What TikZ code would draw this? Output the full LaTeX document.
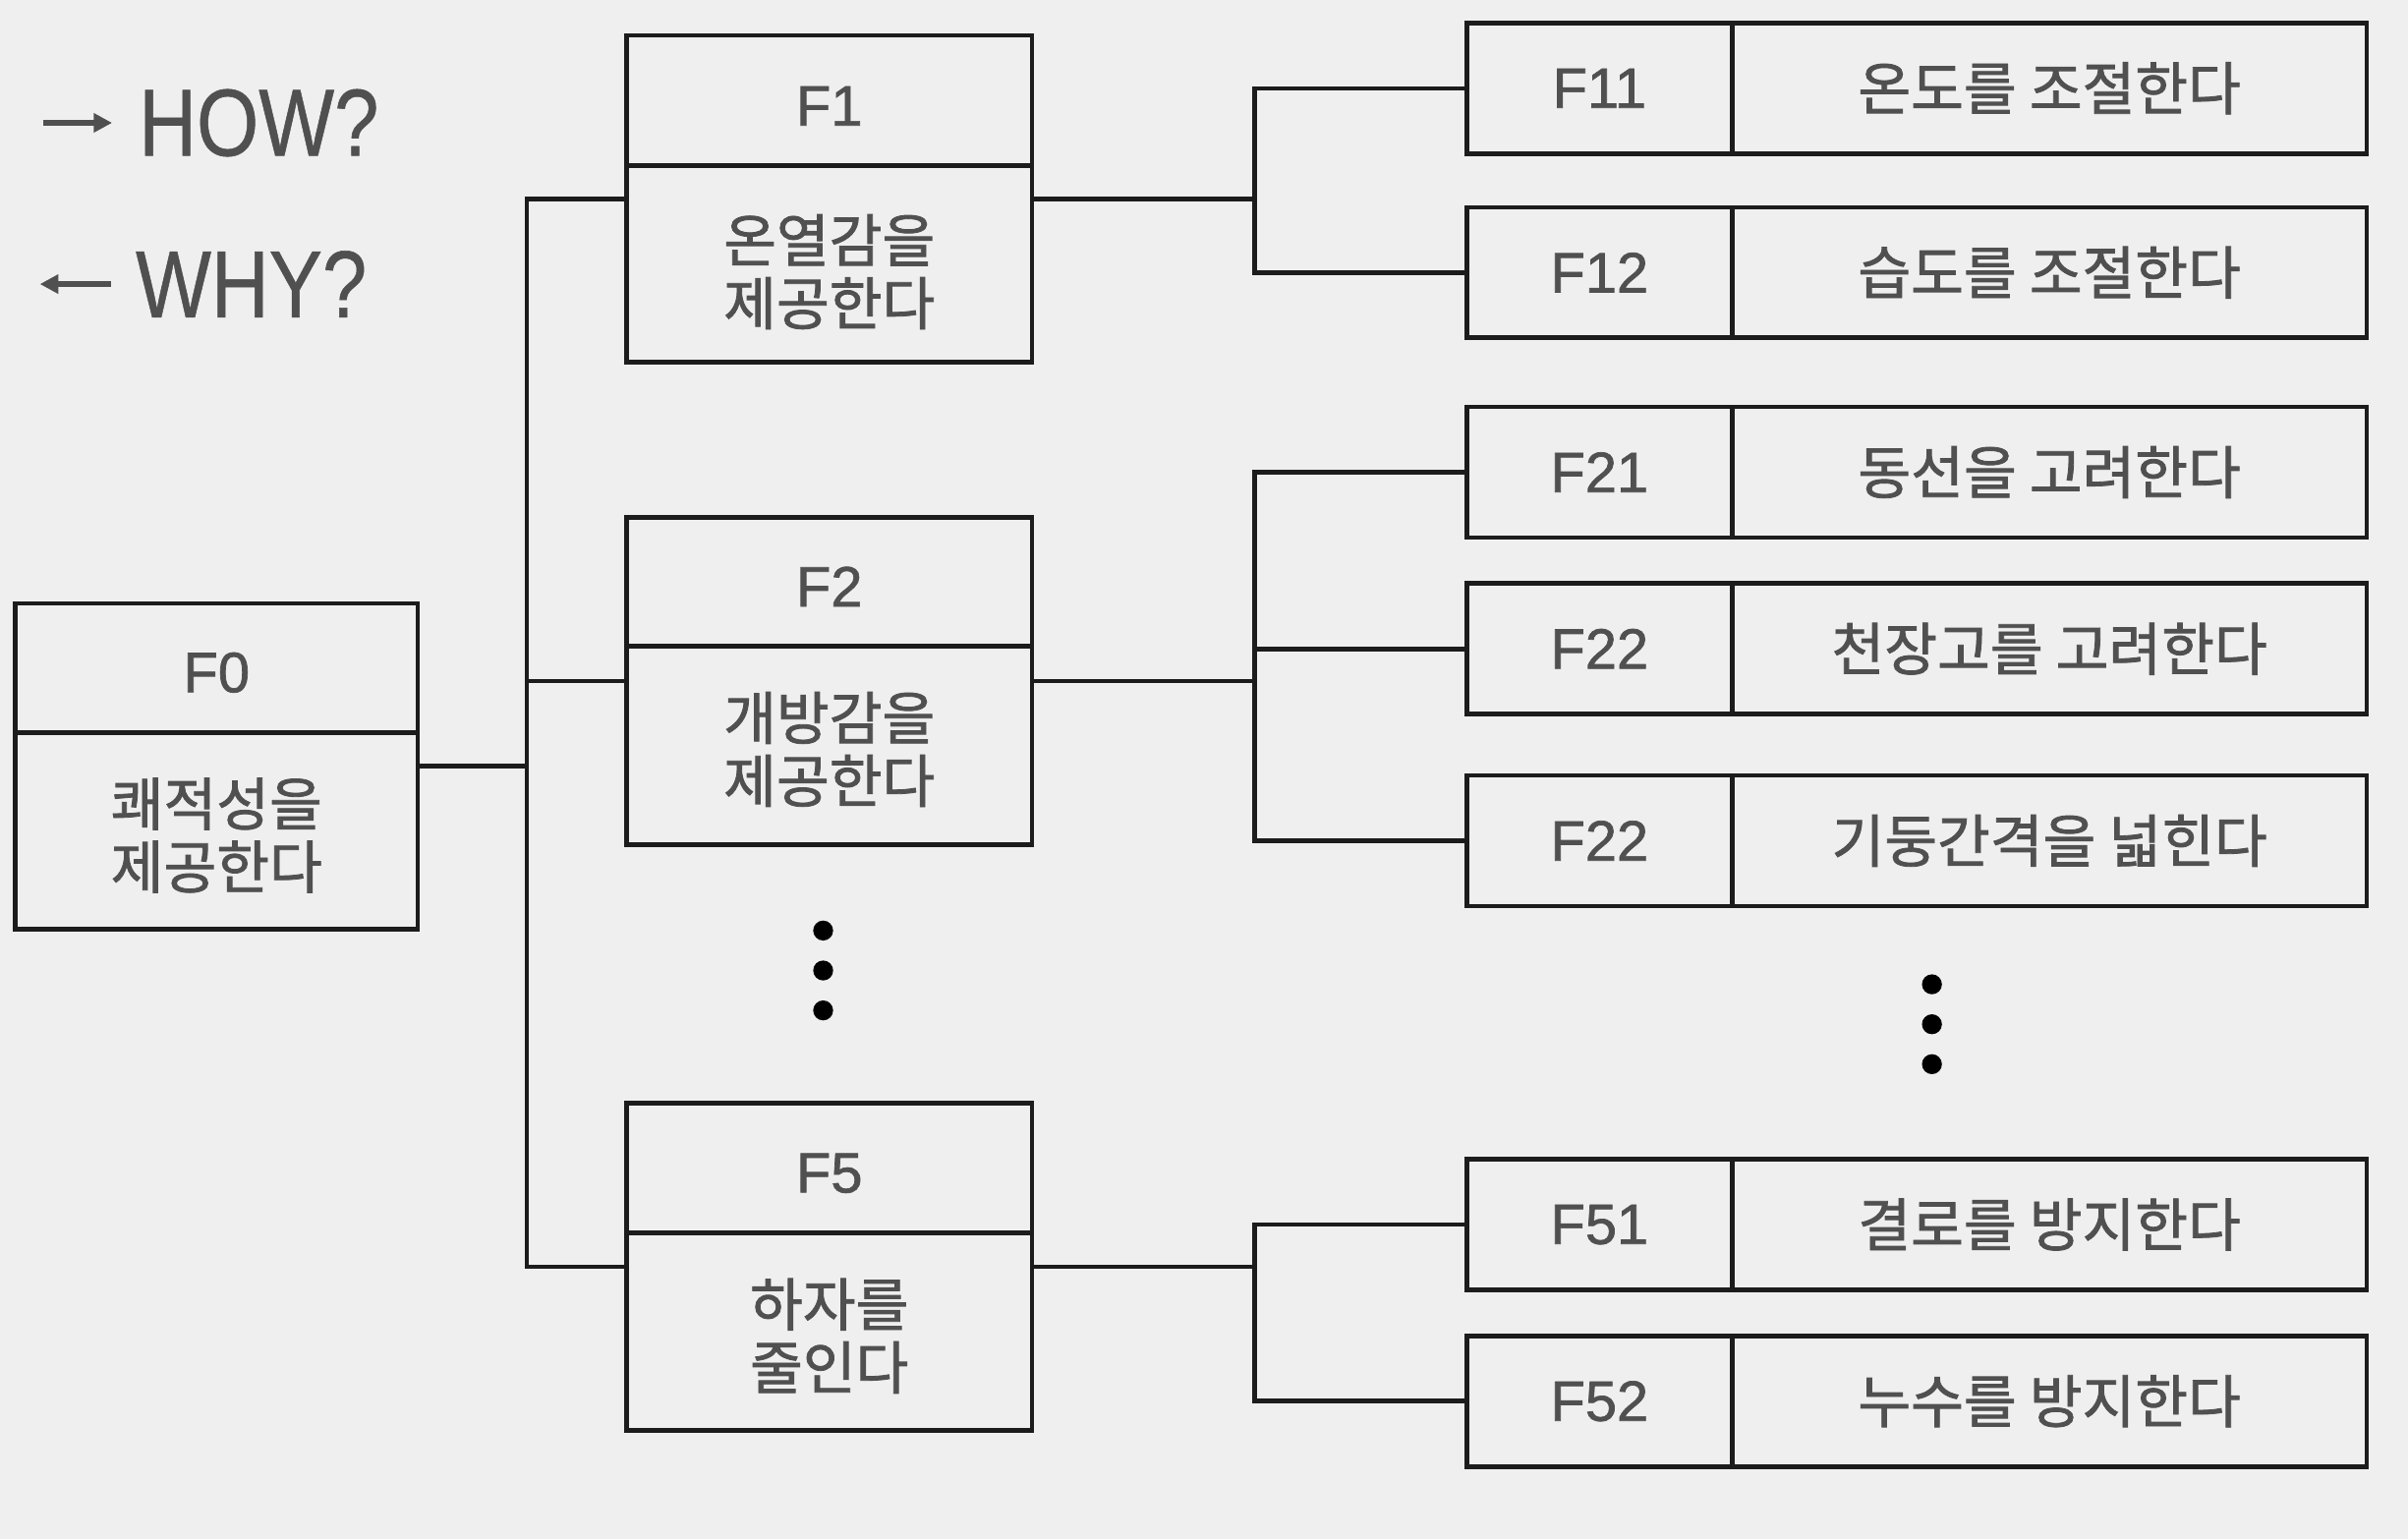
\documentclass[tikz,border=0pt]{standalone}
\usepackage{fontspec}
\usepackage{graphicx}
\setmainfont{Noto Sans CJK KR}[FakeBold=1.4]
\newfontfamily\lat{Liberation Sans}[FakeBold=1.2]
\newfontfamily\latq{Liberation Sans}[FakeBold=0.6]
\usetikzlibrary{arrows.meta}
\definecolor{txt}{HTML}{505050}
\definecolor{bg}{HTML}{EFEFEF}
\definecolor{ln}{HTML}{1C1C1C}
\begin{document}
\begin{tikzpicture}[x=0.5pt,y=-0.5pt,
  bigbox/.style={draw=ln,line width=1.5pt,inner sep=0pt,minimum width=132pt,minimum height=106.5pt},
  lcell/.style={draw=ln,line width=1.5pt,inner sep=0pt,minimum width=86.5pt,minimum height=42.5pt,
     text=txt,font=\lat\fontsize{18.5}{20}\selectfont},
  tcell/.style={draw=ln,line width=1.5pt,inner sep=0pt,minimum width=206.5pt,minimum height=42.5pt,
     text=txt,font=\fontsize{18.7}{20}\selectfont},
  flabel/.style={inner sep=0pt,text=txt,font=\lat\fontsize{18.5}{20}\selectfont},
  ktext/.style={inner sep=0pt,text=txt,align=center,font=\fontsize{18.7}{20.5}\selectfont},
  conn/.style={draw=ln,line width=1.5pt},
  divider/.style={draw=ln,line width=1.5pt},
  qtext/.style={inner sep=0pt,anchor=west,text=txt,font=\latq\fontsize{31}{31}\selectfont},
  qarrow/.style={draw=txt,line width=1.7pt,-{Triangle[length=6pt,width=6pt]}},
  dot/.style={fill=black,circle,inner sep=0pt,minimum size=6.5pt}
]
\fill[bg] (0,0) rectangle (1568,1002);
\useasboundingbox (0,0) rectangle (1568,1002);

% legend
\coordinate (ha1) at (28,80);
\coordinate (ha2) at (73,80);
\coordinate (wa1) at (72,185);
\coordinate (wa2) at (26,185);
\draw[qarrow] (ha1) -- (ha2);
\draw[qarrow] (wa1) -- (wa2);
\node[qtext] (how) at (90,80) {\scalebox{0.84}[1]{HOW?}};
\node[qtext] (why) at (88,185) {\scalebox{0.84}[1]{WHY?}};

% F0
\node[bigbox,minimum width=131pt,minimum height=106pt] (F0) at (141,499) {};
\draw[divider] (F0.west |- 0,477) -- (F0.east |- 0,477);
\node[flabel] (F0l) at (141,438) {F0};
\node[ktext] (F0t) at (141,544) {쾌적성을\\제공한다};

% F1
\node[bigbox] (F1) at (540,129.5) {};
\draw[divider] (F1.west |- 0,108) -- (F1.east |- 0,108);
\node[flabel] (F1l) at (540,69) {F1};
\node[ktext] (F1t) at (540,177) {온열감을\\제공한다};

% F2
\node[bigbox] (F2) at (540,443.5) {};
\draw[divider] (F2.west |- 0,421) -- (F2.east |- 0,421);
\node[flabel] (F2l) at (540,382) {F2};
\node[ktext] (F2t) at (540,488) {개방감을\\제공한다};

% F5
\node[bigbox] (F5) at (540,825) {};
\draw[divider] (F5.west |- 0,803) -- (F5.east |- 0,803);
\node[flabel] (F5l) at (540,764) {F5};
\node[ktext] (F5t) at (540,870) {하자를\\줄인다};

% dots
\node[dot] (d1) at (536,606) {};
\node[dot] (d2) at (536,632) {};
\node[dot] (d3) at (536,658) {};
\node[dot] (d4) at (1258,641) {};
\node[dot] (d5) at (1258,667) {};
\node[dot] (d6) at (1258,693) {};

% right boxes
\node[lcell] (F11) at (1041.5,57.5) {F11};
\node[tcell] (F11t) at (1334.5,57.5) {온도를 조절한다};
\node[lcell] (F12) at (1041.5,177.5) {F12};
\node[tcell] (F12t) at (1334.5,177.5) {습도를 조절한다};
\node[lcell] (F21) at (1041.5,307.5) {F21};
\node[tcell] (F21t) at (1334.5,307.5) {동선을 고려한다};
\node[lcell] (F22) at (1041.5,422.5) {F22};
\node[tcell] (F22t) at (1334.5,422.5) {천장고를 고려한다};
\node[lcell] (F23) at (1041.5,547.5) {F22};
\node[tcell] (F23t) at (1334.5,547.5) {기둥간격을 넓힌다};
\node[lcell] (F51) at (1041.5,797.5) {F51};
\node[tcell] (F51t) at (1334.5,797.5) {결로를 방지한다};
\node[lcell] (F52) at (1041.5,912.5) {F52};
\node[tcell] (F52t) at (1334.5,912.5) {누수를 방지한다};

% connectors level 1
\coordinate (j0) at (343,499);
\draw[conn] (F0.east) -- (j0);
\draw[conn] (j0) |- (F1.west);
\draw[conn] (j0) |- (F2.west);
\draw[conn] (j0) |- (F5.west);

% connectors level 2
\coordinate (j1) at (817,129.5);
\draw[conn] (F1.east) -- (j1);
\draw[conn] (j1) |- (F11.west);
\draw[conn] (j1) |- (F12.west);

\coordinate (j2) at (817,443.5);
\draw[conn] (F2.east) -- (j2);
\draw[conn] (j2) |- (F21.west);
\draw[conn] (j2) |- (F22.west);
\draw[conn] (j2) |- (F23.west);

\coordinate (j5) at (817,825);
\draw[conn] (F5.east) -- (j5);
\draw[conn] (j5) |- (F51.west);
\draw[conn] (j5) |- (F52.west);
\end{tikzpicture}
\end{document}
